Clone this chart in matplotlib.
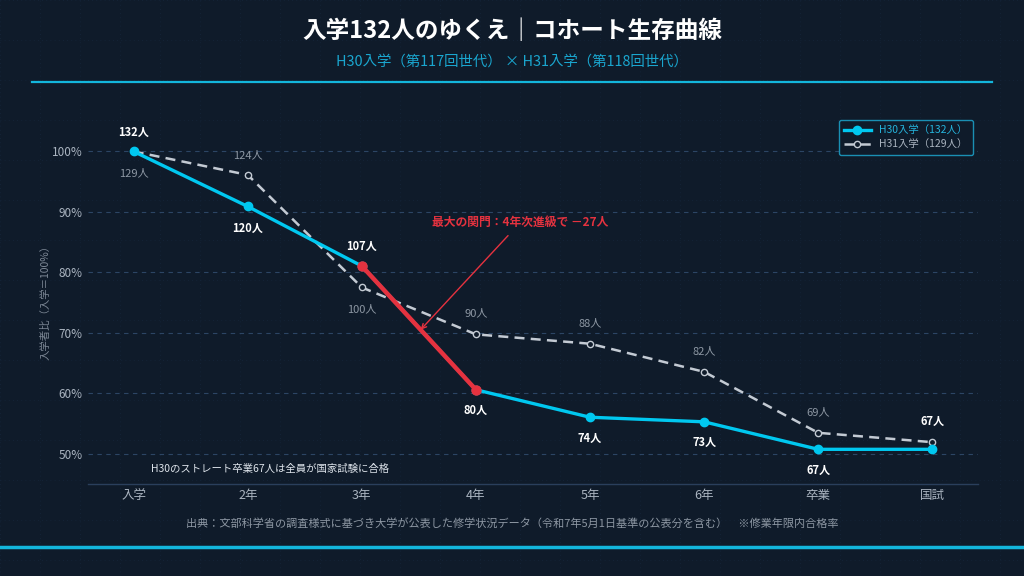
import matplotlib
matplotlib.use("Agg")
import matplotlib.pyplot as plt
from matplotlib.lines import Line2D

plt.rcParams['font.family'] = ['Noto Sans CJK JP', 'DejaVu Sans']

stages = ["入学", "2年", "3年", "4年", "5年", "6年", "卒業", "国試"]
h30_counts = [132, 120, 107, 80, 74, 73, 67, 67]
h31_counts = [129, 124, 100, 90, 88, 82, 69, 67]
yticks = [50, 60, 70, 80, 90, 100]

BG = "#0f1b2a"
CYAN = "#00c8f0"
RED = "#e5323f"
GREY = "#c3cad3"

h30_pct = [c / h30_counts[0] * 100 for c in h30_counts]
h31_pct = [c / h31_counts[0] * 100 for c in h31_counts]
x = list(range(len(stages)))

fig = plt.figure(figsize=(10.24, 5.76), dpi=100, facecolor=BG)

# faint background dotted grid
bg = fig.add_axes([0, 0, 1, 1], zorder=-5)
bg.set_facecolor(BG)
bg.set_xlim(0, 1024); bg.set_ylim(576, 0)
bg.axis("off")
for gx in range(0, 1025, 40):
    bg.axvline(gx, color="#16253a", lw=0.6, ls=(0, (1, 4)))
for gy in range(0, 577, 40):
    bg.axhline(gy, color="#16253a", lw=0.6, ls=(0, (1, 4)))
bg.plot([32, 992], [82, 82], color="#13b6dc", lw=1.6)
bg.plot([0, 1024], [547, 547], color="#13b6dc", lw=2.5)

fig.text(0.5, 0.947, "入学132人のゆくえ｜コホート生存曲線", ha="center", va="center",
         color="white", fontsize=17, fontweight="bold")
fig.text(0.5, 0.893, "H30入学（第117回世代） × H31入学（第118回世代）", ha="center", va="center",
         color="#1aa6cf", fontsize=10.4)

ax = fig.add_axes([0.086, 0.16, 0.869, 0.64])
ax.set_facecolor("none")
ax.set_xlim(-0.4, 7.4)
ax.set_ylim(45.05, 106)

for s in ["top", "right", "left"]:
    ax.spines[s].set_visible(False)
ax.spines["bottom"].set_color("#2a3f5c")
ax.spines["bottom"].set_linewidth(1.0)

ax.set_yticks(yticks)
ax.set_yticklabels([f"{v}%" for v in yticks])
ax.set_xticks(x)
ax.set_xticklabels(stages)
ax.tick_params(axis="both", length=0, colors="#aab4c0", labelsize=8.5)
ax.tick_params(axis="y", pad=4)
ax.tick_params(axis="x", pad=4, labelsize=9)
ax.yaxis.grid(True, color="#2c4564", ls=(0, (4, 4)), lw=0.8)
ax.set_axisbelow(True)
ax.set_ylabel("入学者比（入学＝100%）", color="#7d8896", fontsize=7.5, labelpad=1)

# H31 series
ax.plot(x, h31_pct, color=GREY, lw=1.8, ls=(0, (4, 2.5)), marker="o", ms=4.5,
        mfc=BG, mec=GREY, mew=1.0, zorder=3)
# H30 series
ax.plot(x, h30_pct, color=CYAN, lw=2.4, marker="o", ms=6, mfc=CYAN, mec=CYAN, zorder=4)
# Highlight 3年->4年
ax.plot(x[2:4], h30_pct[2:4], color=RED, lw=3.2, marker="o", ms=6.5, mfc=RED, mec=RED, zorder=5)

# H30 labels (offset in points, positive = above)
h30_off = [14, -16, 14, -15, -15, -15, -15, 20]
for xi, yi, c, o in zip(x, h30_pct, h30_counts, h30_off):
    ax.annotate(f"{c}人", (xi, yi), xytext=(0, o), textcoords="offset points",
                ha="center", va="center", color="white", fontsize=8, fontweight="bold", zorder=6)

# H31 labels
h31_off = [(0, -16), (0, 14), (0, -16), (0, 15), (0, 15), (0, 15), (0, 15), None]
for xi, yi, c, o in zip(x, h31_pct, h31_counts, h31_off):
    if o is None:
        continue
    ax.annotate(f"{c}人", (xi, yi), xytext=o, textcoords="offset points",
                ha="center", va="center", color="#8d97a3", fontsize=8, zorder=6)

# arrow annotation
mid_x = 2.515
mid_y = h30_pct[2] + (h30_pct[3] - h30_pct[2]) * (mid_x - 2)
ax.annotate("最大の関門：4年次進級で －27人", xy=(mid_x, mid_y), xytext=(3.39, 88.3),
            ha="center", va="center", color=RED, fontsize=8.5, fontweight="bold",
            arrowprops=dict(arrowstyle="->", color=RED, lw=1.0, shrinkA=4, shrinkB=0), zorder=7)

ax.text(0.15, 47.6, "H30のストレート卒業67人は全員が国家試験に合格", color="#dde3ea",
        fontsize=7.5, ha="left", va="center")

handles = [Line2D([0], [0], color=CYAN, lw=2.4, marker="o", ms=6),
           Line2D([0], [0], color=GREY, lw=1.8, ls=(0, (4, 2.5)), marker="o", ms=4.5,
                  mfc=BG, mec=GREY)]
leg = ax.legend(handles, ["H30入学（132人）", "H31入学（129人）"], loc="upper right",
                bbox_to_anchor=(1.0, 1.0), fontsize=7.5, facecolor=BG, edgecolor="#1a8fb3",
                framealpha=1, handlelength=2.6, borderpad=0.5, labelspacing=0.4)
leg.get_frame().set_linewidth(1.0)
leg.texts[0].set_color("#25b4dc")
leg.texts[1].set_color("#aab4c0")

fig.text(0.5, 0.091, "出典：文部科学省の調査様式に基づき大学が公表した修学状況データ（令和7年5月1日基準の公表分を含む）　※修業年限内合格率",
         ha="center", va="center", color="#8d97a3", fontsize=8)

fig.savefig("out.png", dpi=100, facecolor=BG)
